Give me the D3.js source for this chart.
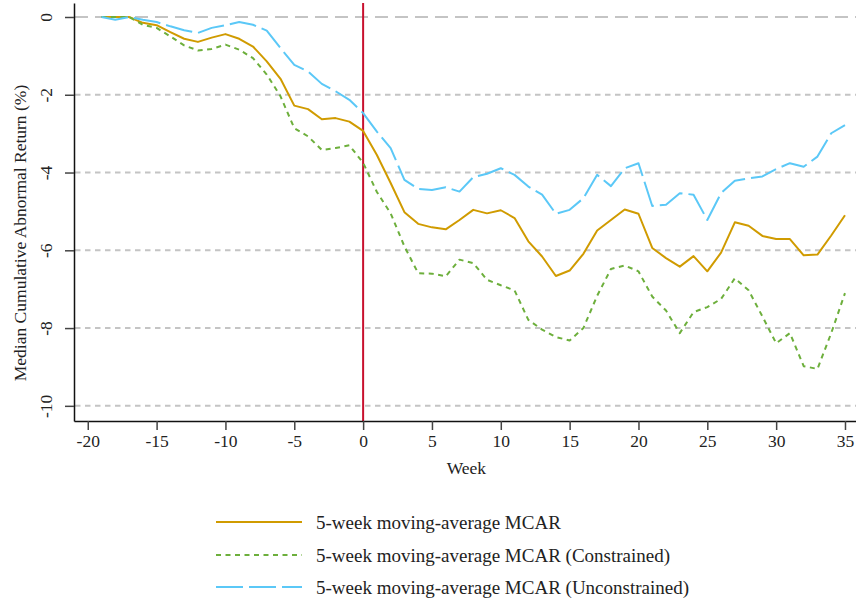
<!DOCTYPE html>
<html>
<head>
<meta charset="utf-8">
<script src="https://cdn.jsdelivr.net/npm/d3@7"></script>
<style>
  html, body { margin: 0; padding: 0; background: #fff; }
  svg { display: block; }
  text { font-family: "Liberation Serif", "Times New Roman", serif; fill: #222; }
</style>
</head>
<body>
<svg id="chart" width="856" height="602"></svg>
<script>
// Weeks relative to the event (week 0)
const weeks = d3.range(-19, 36);

// 5-week moving-average median cumulative abnormal returns (%)
const mcar = [
  0, 0, 0, -0.15, -0.21, -0.39, -0.56, -0.64, -0.53, -0.44,
  -0.56, -0.76, -1.14, -1.59, -2.28, -2.37, -2.63, -2.60, -2.69, -2.93,
  -3.55, -4.27, -5.02, -5.32, -5.41, -5.46, -5.22, -4.96, -5.05, -4.97,
  -5.17, -5.77, -6.16, -6.66, -6.52, -6.09, -5.49, -5.22, -4.95, -5.06,
  -5.94, -6.20, -6.42, -6.15, -6.54, -6.06, -5.28, -5.37, -5.63, -5.71,
  -5.71, -6.13, -6.11, -5.62, -5.10
];

const mcarConstrained = [
  0, 0, 0, -0.20, -0.28, -0.50, -0.73, -0.86, -0.82, -0.71,
  -0.84, -1.06, -1.48, -2.04, -2.86, -3.07, -3.42, -3.37, -3.30, -3.75,
  -4.50, -5.05, -5.90, -6.59, -6.60, -6.67, -6.24, -6.33, -6.76, -6.90,
  -7.03, -7.79, -8.04, -8.23, -8.32, -8.00, -7.17, -6.48, -6.39, -6.54,
  -7.19, -7.55, -8.13, -7.59, -7.46, -7.25, -6.72, -7.03, -7.70, -8.39,
  -8.13, -8.98, -9.05, -8.13, -7.10
];

const mcarUnconstrained = [
  0, -0.07, 0, -0.07, -0.13, -0.24, -0.34, -0.41, -0.28, -0.21,
  -0.13, -0.20, -0.35, -0.80, -1.23, -1.40, -1.72, -1.91, -2.13, -2.47,
  -2.95, -3.37, -4.19, -4.42, -4.45, -4.38, -4.49, -4.12, -4.03, -3.89,
  -4.06, -4.36, -4.57, -5.06, -4.96, -4.66, -4.06, -4.35, -3.89, -3.76,
  -4.86, -4.83, -4.53, -4.57, -5.22, -4.53, -4.21, -4.15, -4.10, -3.91,
  -3.76, -3.85, -3.59, -2.99, -2.78
];

const xTicks = [-20, -15, -10, -5, 0, 5, 10, 15, 20, 25, 30, 35];
const yTicks = [0, -2, -4, -6, -8, -10];

const seriesNames = [
  "5-week moving-average MCAR",
  "5-week moving-average MCAR (Constrained)",
  "5-week moving-average MCAR (Unconstrained)"
];

const series = [
  { name: seriesNames[0], values: mcar, color: "#D09B00", dash: null },
  { name: seriesNames[1], values: mcarConstrained, color: "#6DAF3C", dash: "5,4.5" },
  { name: seriesNames[2], values: mcarUnconstrained, color: "#5BC8F7", dash: "27,6" }
];

const svg = d3.select("#chart");

const plotLeft = 74, plotRight = 856, plotTop = 3, plotBottom = 421;
const axisFont = 17.5, legendFont = 19;

const x = d3.scaleLinear().domain([-21, 35.8]).range([plotLeft, plotRight]);
const y = d3.scaleLinear().domain([0.36, -10.39]).range([plotTop, plotBottom]);

// Horizontal reference lines
svg.append("g")
  .selectAll("line")
  .data(yTicks)
  .join("line")
  .attr("x1", plotLeft + 1)
  .attr("x2", plotRight)
  .attr("y1", d => y(d))
  .attr("y2", d => y(d))
  .attr("stroke", "#c4c4c4")
  .attr("stroke-width", 2)
  .attr("stroke-dasharray", d => d === 0 ? "13,7" : "5.5,4.5");

// Event week marker
svg.append("line")
  .attr("x1", x(0)).attr("x2", x(0))
  .attr("y1", plotTop).attr("y2", plotBottom)
  .attr("stroke", "#C8102E")
  .attr("stroke-width", 2);

// Series lines
const line = d3.line()
  .x((d, i) => x(weeks[i]))
  .y(d => y(d));

svg.append("g")
  .selectAll("path")
  .data(series)
  .join("path")
  .attr("d", s => line(s.values))
  .attr("fill", "none")
  .attr("stroke", s => s.color)
  .attr("stroke-width", 2)
  .attr("stroke-dasharray", s => s.dash)
  .attr("stroke-linejoin", "round");

const fmt = d => d < 0 ? "-" + Math.abs(d) : String(d);

// X axis
const xAxis = svg.append("g")
  .attr("transform", `translate(0,${plotBottom})`)
  .call(d3.axisBottom(x).tickValues(xTicks).tickSize(9).tickPadding(5).tickSizeOuter(0)
    .tickFormat(fmt));
xAxis.select(".domain").attr("stroke", "#111").attr("stroke-width", 1.5);
xAxis.selectAll(".tick line").attr("stroke", "#444").attr("stroke-width", 1.5);
xAxis.selectAll(".tick text")
  .attr("font-family", "Liberation Serif, serif")
  .attr("font-size", axisFont)
  .attr("fill", "#222");

// Y axis with rotated labels
const yAxis = svg.append("g")
  .attr("transform", `translate(${plotLeft},0)`)
  .call(d3.axisLeft(y).tickValues(yTicks).tickSize(9).tickPadding(0).tickSizeOuter(0)
    .tickFormat(fmt));
yAxis.select(".domain").attr("stroke", "#111").attr("stroke-width", 1.5);
yAxis.selectAll(".tick line").attr("stroke", "#444").attr("stroke-width", 1.5);
yAxis.selectAll(".tick text")
  .attr("font-family", "Liberation Serif, serif")
  .attr("font-size", axisFont)
  .attr("fill", "#222")
  .attr("x", null)
  .attr("text-anchor", "middle")
  .attr("transform", "translate(-28,0) rotate(-90)")
  .attr("dy", "0.35em");

// Axis titles
svg.append("text")
  .attr("x", x(7.5))
  .attr("y", 474)
  .attr("text-anchor", "middle")
  .attr("font-size", axisFont)
  .text("Week");

svg.append("text")
  .attr("transform", "translate(26,233) rotate(-90)")
  .attr("text-anchor", "middle")
  .attr("font-size", axisFont)
  .text("Median Cumulative Abnormal Return (%)");

// Legend
const legend = svg.append("g");
const legendY = [522, 555, 587];
series.forEach((s, i) => {
  legend.append("line")
    .attr("x1", 216).attr("x2", 302)
    .attr("y1", legendY[i]).attr("y2", legendY[i])
    .attr("stroke", s.color)
    .attr("stroke-width", 2)
    .attr("stroke-dasharray", s.dash);
  legend.append("text")
    .attr("x", 316)
    .attr("y", legendY[i])
    .attr("dy", "0.35em")
    .attr("font-size", legendFont)
    .text(s.name);
});
</script>
</body>
</html>
